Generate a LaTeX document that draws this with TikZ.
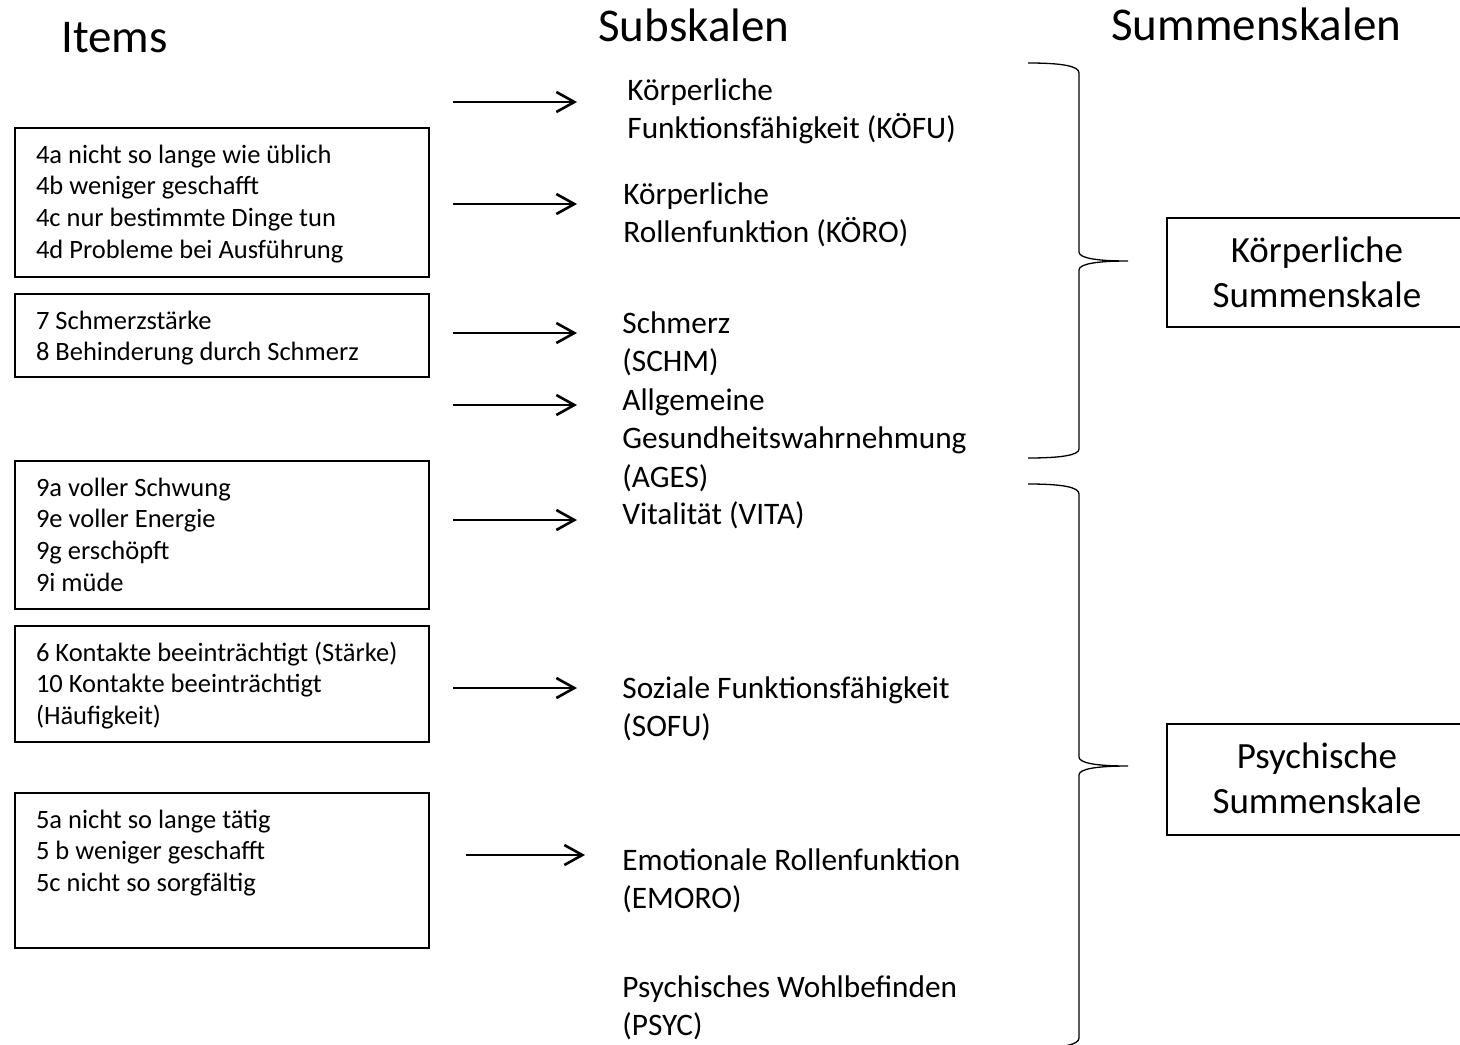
\documentclass[tikz,border=0pt]{standalone}
\usepackage{fontspec}
\setmainfont{Carlito}
\usetikzlibrary{arrows.meta}

\begin{document}
\begin{tikzpicture}[x=0.5pt,y=-0.5pt,
		pfeil/.style={line width=1.3pt,-{Straight Barb[length=9pt,width=10pt,line width=1.3pt]}},
		itembox/.style={draw,line width=1pt,anchor=north west,inner xsep=10.5pt,inner ysep=0pt,
			text width=186pt,text height=17.5pt,font=\fontsize{13.25}{15.85}\selectfont,
			execute at begin node={\spaceskip=0pt\xspaceskip=0pt}},
		subtext/.style={anchor=base west,inner sep=0pt,font=\fontsize{15.65}{19.25}\selectfont},
		summbox/.style={draw,line width=0.9pt,anchor=north west,inner sep=0pt,minimum width=150pt,
			text height=22.5pt,font=\fontsize{18.5}{22.5}\selectfont},
		titel/.style={anchor=base west,inner sep=0pt,font=\fontsize{23.5}{28}\selectfont},
		klammer/.style={line width=0.65pt}]
		
		\useasboundingbox (0,0) rectangle (1460,1044);
		
		% titles
		\node[titel] (titems) at (61,52) {Items};
		\node[titel] (tsub) at (598,41) {Subskalen};
		\node[titel] (tsumm) at (1111,40) {Summenskalen};
		
		% items
		\node[itembox,text depth=57pt] (b1) at (14,127) {\begin{tabular}[t]{@{}l@{}}
				4a nicht so lange wie üblich\\
				4b weniger geschafft\\
				4c nur bestimmte Dinge tun\\
				4d Probleme bei Ausführung
			\end{tabular}};
		\node[itembox,text depth=24pt] (b2) at (14,293) {\begin{tabular}[t]{@{}l@{}}
				7 Schmerzstärke\\
				8 Behinderung durch Schmerz
			\end{tabular}};
		\node[itembox,text depth=56.5pt] (b3) at (14,460) {\begin{tabular}[t]{@{}l@{}}
				9a voller Schwung\\
				9e voller Energie\\
				9g erschöpft\\
				9i müde
			\end{tabular}};
		\node[itembox,text depth=40.5pt] (b4) at (14,625) {\begin{tabular}[t]{@{}l@{}}
				6 Kontakte beeinträchtigt (Stärke)\\
				10 Kontakte beeinträchtigt\\
				(Häufigkeit)
			\end{tabular}};
		\node[itembox,text depth=60pt] (b5) at (14,792) {\begin{tabular}[t]{@{}l@{}}
				5a nicht so lange tätig\\
				5 b weniger geschafft\\
				5c nicht so sorgfältig
			\end{tabular}};
		
		% subskalen
		\node[subtext] (koefu) at (627,100) {\begin{tabular}[t]{@{}l@{}}Körperliche\\Funktionsfähigkeit (KÖFU)\end{tabular}};
		\node[subtext] (koero) at (623,204) {\begin{tabular}[t]{@{}l@{}}Körperliche\\Rollenfunktion (KÖRO)\end{tabular}};
		\node[subtext] (schm) at (622,333) {\begin{tabular}[t]{@{}l@{}}Schmerz\\(SCHM)\end{tabular}};
		\node[subtext] (ages) at (622,410) {\begin{tabular}[t]{@{}l@{}}Allgemeine\\Gesundheitswahrnehmung\\(AGES)\end{tabular}};
		\node[subtext] (vita) at (622,524) {Vitalität (VITA)};
		\node[subtext] (sofu) at (622,698) {\begin{tabular}[t]{@{}l@{}}Soziale Funktionsfähigkeit\\(SOFU)\end{tabular}};
		\node[subtext] (emoro) at (622,870) {\begin{tabular}[t]{@{}l@{}}Emotionale Rollenfunktion\\(EMORO)\end{tabular}};
		\node[subtext] (psyc) at (622,997) {\begin{tabular}[t]{@{}l@{}}Psychisches Wohlbefinden\\(PSYC)\end{tabular}};
		
		% summenskalen
		\node[summbox,text depth=32pt] (koerper) at (1166,217) {\begin{tabular}[t]{@{}c@{}}Körperliche\\Summenskale\end{tabular}};
		\node[summbox,text depth=33pt] (psych) at (1166,723) {\begin{tabular}[t]{@{}c@{}}Psychische\\Summenskale\end{tabular}};
		
		% arrows
		\coordinate (a1) at (453,102);
		\coordinate (e1) at (577,102);
		\coordinate (a2) at (453,204);
		\coordinate (e2) at (577,204);
		\coordinate (a3) at (453,333);
		\coordinate (e3) at (577,333);
		\coordinate (a4) at (453,405);
		\coordinate (e4) at (577,405);
		\coordinate (a5) at (453,520);
		\coordinate (e5) at (577,520);
		\coordinate (a6) at (453,688);
		\coordinate (e6) at (577,688);
		\coordinate (a7) at (466,855);
		\coordinate (e7) at (585,855);
		\draw[pfeil] (a1) -- (e1);
		\draw[pfeil] (a2) -- (e2);
		\draw[pfeil] (a3) -- (e3);
		\draw[pfeil] (a4) -- (e4);
		\draw[pfeil] (a5) -- (e5);
		\draw[pfeil] (a6) -- (e6);
		\draw[pfeil] (a7) -- (e7);
		
		% braces
		\draw[klammer] (1028,63) .. controls (1062,63) and (1079,66) .. (1079,73) -- (1079,252)
			.. controls (1079,258) and (1096,261) .. (1128,261)
			.. controls (1096,261) and (1079,264) .. (1079,270) -- (1079,449)
			.. controls (1079,455) and (1062,458) .. (1028,458);
		\draw[klammer] (1028,484) .. controls (1062,484) and (1079,487) .. (1079,494) -- (1079,757)
			.. controls (1079,763) and (1096,766) .. (1128,766)
			.. controls (1096,766) and (1079,769) .. (1079,775) -- (1079,1038)
			.. controls (1079,1045) and (1062,1048) .. (1028,1048);
		
\end{tikzpicture}
\end{document}
